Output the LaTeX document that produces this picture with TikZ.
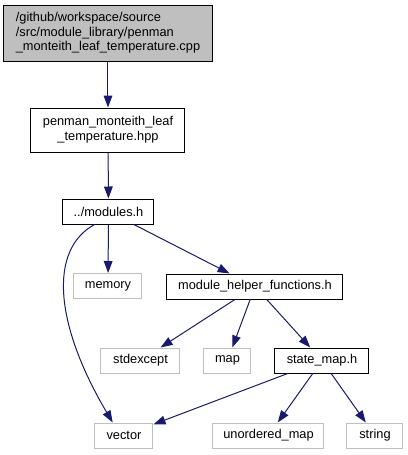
\documentclass[tikz,border=0pt]{standalone}
\usepackage{fontspec}
\setmainfont{Liberation Sans}
\usetikzlibrary{arrows.meta}
\definecolor{dxedge}{HTML}{191970}
\definecolor{dxgrey}{HTML}{BFBFBF}

\begin{document}
\begin{tikzpicture}[
  x=0.75pt,y=-0.75pt,
  font=\fontsize{9.6}{11}\selectfont,
  hdr/.style={draw=black,fill=white,line width=0.75pt,align=center,inner sep=0pt,
              minimum height=18.75pt},
  sys/.style={hdr,draw=dxgrey},
  src/.style={draw=black,fill=dxgrey,line width=0.75pt,align=left,inner xsep=9pt,
              inner ysep=0pt,minimum width=156pt,minimum height=42pt},
  ar/.style={-{Triangle[length=9pt,width=6.5pt]},dxedge,line width=0.75pt}
]
\useasboundingbox (0,0) rectangle (408,455);
\node[src] (cpp) at (108,33) {/github/workspace/source\\/src/module\_library/penman\\
  \_monteith\_leaf\_temperature.cpp};
\node[hdr,minimum width=115.5pt,minimum height=33pt] (hpp) at (108,130)
  {penman\_monteith\_leaf\\\_temperature.hpp};
\node[hdr,minimum width=68.25pt] (mods) at (108.5,211.5) {../modules.h};
\node[sys,minimum width=51pt] (mem) at (108,286) {memory};
\node[hdr,minimum width=132pt] (mhf) at (255,286.5) {module\_helper\_functions.h};
\node[sys,minimum width=59.25pt] (stdx) at (140.5,360.5) {stdexcept};
\node[sys,minimum width=35.25pt] (mapn) at (227.5,360.5) {map};
\node[hdr,minimum width=70.5pt] (smap) at (322,360.5) {state\_map.h};
\node[sys,minimum width=43.5pt] (vec) at (124,435.5) {vector};
\node[sys,minimum width=83.25pt] (umap) at (268.5,435.5) {unordered\_map};
\node[sys,minimum width=42pt] (str) at (375,435.5) {string};

\draw[ar] (cpp) -- (hpp);
\draw[ar] (hpp) -- (mods);
\draw[ar] (mods) -- (mem);
\draw[ar] (mods) -- (mhf);
\draw[ar] (mods.223) .. controls (48,250) and (55,325) .. (vec.131);
\draw[ar] (mhf) -- (stdx);
\draw[ar] (mhf) -- (mapn);
\draw[ar] (mhf) -- (smap);
\draw[ar] (smap) -- (vec);
\draw[ar] (smap) -- (umap);
\draw[ar] (smap) -- (str);
\end{tikzpicture}
\end{document}
